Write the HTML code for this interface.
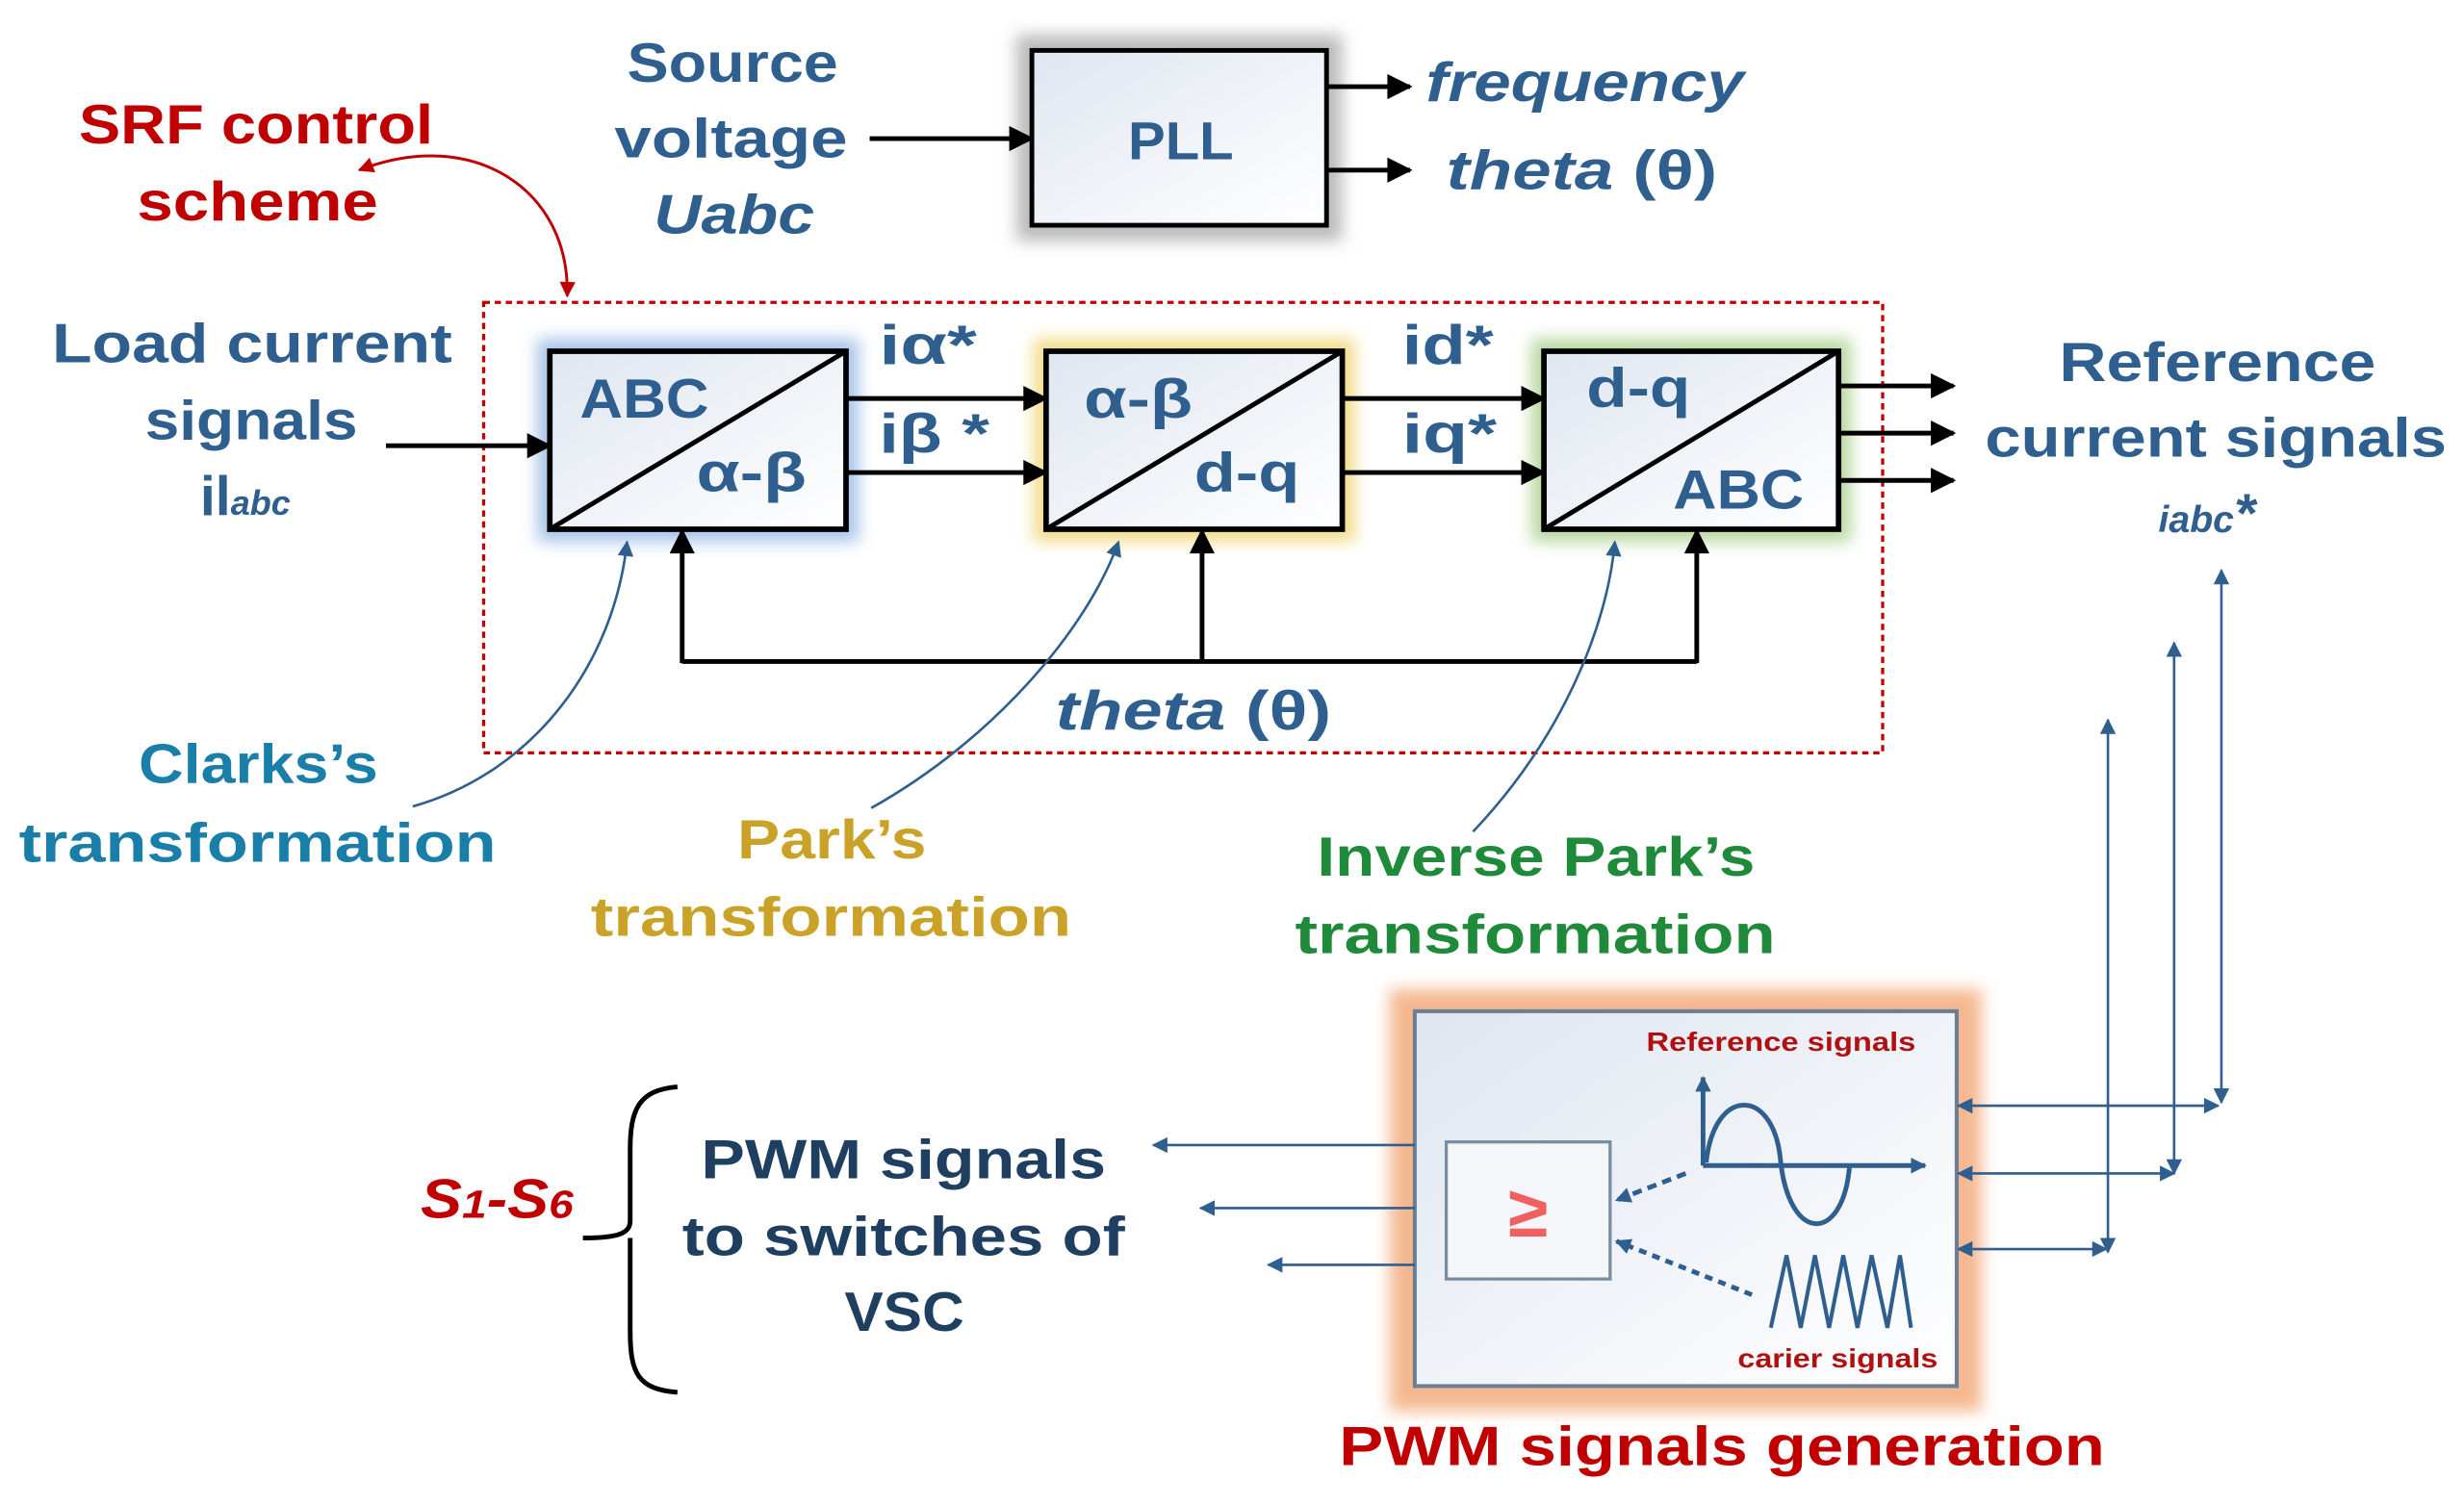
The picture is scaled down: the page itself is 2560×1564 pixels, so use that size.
<!DOCTYPE html>
<html><head><meta charset="utf-8"><style>
html,body{margin:0;padding:0;background:#fff}
svg{display:block}
text{font-family:"Liberation Sans",sans-serif;font-weight:bold}
</style></head><body>
<svg width="2560" height="1564" viewBox="0 0 1564 955.5" preserveAspectRatio="none" xmlns="http://www.w3.org/2000/svg">
<defs>
<marker id="abl" viewBox="0 0 10 10" refX="9" refY="5" markerWidth="26" markerHeight="16" orient="auto-start-reverse" markerUnits="userSpaceOnUse"><path d="M0,0 L10,5 L0,10z" fill="#000"/></marker>
<marker id="ub" viewBox="0 0 10 10" refX="9" refY="5" markerWidth="16" markerHeight="10" orient="auto-start-reverse" markerUnits="userSpaceOnUse"><path d="M0,0 L10,5 L0,10z" fill="#2e5f8f"/></marker>
<marker id="rb" viewBox="0 0 10 10" refX="9" refY="5" markerWidth="14" markerHeight="10" orient="auto-start-reverse" markerUnits="userSpaceOnUse"><path d="M0,0 L10,5 L0,10z" fill="#c00000"/></marker>
<filter id="gl" x="-20%" y="-20%" width="140%" height="140%"><feGaussianBlur stdDeviation="5"/></filter>
<linearGradient id="bg" x1="0" y1="0" x2="1" y2="1"><stop offset="0" stop-color="#dfe6f0"/><stop offset="1" stop-color="#ffffff"/></linearGradient>
</defs>

<!-- PLL -->
<rect x="645" y="22" width="207" height="131" fill="#bbb" filter="url(#gl)"/>
<rect x="655" y="32" width="187" height="111" fill="url(#bg)" stroke="#000" stroke-width="3"/>
<text x="716" y="101" font-size="34" fill="#2e5f8f" textLength="67" lengthAdjust="spacingAndGlyphs">PLL</text>
<g fill="#2e5f8f" font-size="35">
<text x="398" y="52" textLength="134" lengthAdjust="spacingAndGlyphs">Source</text>
<text x="390" y="100" textLength="148" lengthAdjust="spacingAndGlyphs">voltage</text>
<text x="415" y="148" font-style="italic" textLength="102" lengthAdjust="spacingAndGlyphs">Uabc</text>
</g>
<line x1="552" y1="88" x2="655" y2="88" stroke="#000" stroke-width="3" marker-end="url(#abl)"/>
<line x1="842" y1="55" x2="895" y2="55" stroke="#000" stroke-width="3" marker-end="url(#abl)"/>
<line x1="842" y1="108" x2="895" y2="108" stroke="#000" stroke-width="3" marker-end="url(#abl)"/>
<text x="905" y="64" font-size="35" fill="#2e5f8f" font-style="italic" textLength="202" lengthAdjust="spacingAndGlyphs">frequency</text>
<text x="918" y="120" font-size="35" fill="#2e5f8f" textLength="172" lengthAdjust="spacingAndGlyphs"><tspan font-style="italic">theta</tspan> (θ)</text>

<!-- SRF -->
<g fill="#c00000" font-size="35">
<text x="50" y="91" textLength="225" lengthAdjust="spacingAndGlyphs">SRF control</text>
<text x="87" y="140" textLength="153" lengthAdjust="spacingAndGlyphs">scheme</text>
</g>
<path d="M360,188 C362,120 300,80 228,108" fill="none" stroke="#c00000" stroke-width="1.8" marker-start="url(#rb)" marker-end="url(#rb)"/>

<rect x="307" y="192" width="888" height="286" fill="none" stroke="#c00000" stroke-width="2" stroke-dasharray="4,3"/>

<rect x="341" y="215" width="204" height="129" fill="#a8c4e8" filter="url(#gl)"/>
<rect x="656" y="215" width="204" height="129" fill="#f2dc8a" filter="url(#gl)"/>
<rect x="972" y="215" width="203" height="129" fill="#b8d8a0" filter="url(#gl)"/>
<g stroke="#000" stroke-width="3.5" fill="url(#bg)">
<rect x="349" y="223" width="188" height="113"/>
<rect x="664" y="223" width="188" height="113"/>
<rect x="980" y="223" width="187" height="113"/>
</g>
<g stroke="#000" stroke-width="3">
<line x1="349" y1="336" x2="537" y2="223"/>
<line x1="664" y1="336" x2="852" y2="223"/>
<line x1="980" y1="336" x2="1167" y2="223"/>
</g>
<g fill="#2e5f8f" font-size="35">
<text x="368" y="265" textLength="82" lengthAdjust="spacingAndGlyphs">ABC</text>
<text x="442" y="312" textLength="70" lengthAdjust="spacingAndGlyphs">α-β</text>
<text x="688" y="265" textLength="69" lengthAdjust="spacingAndGlyphs">α-β</text>
<text x="758" y="312" textLength="67" lengthAdjust="spacingAndGlyphs">d-q</text>
<text x="1007" y="258" textLength="66" lengthAdjust="spacingAndGlyphs">d-q</text>
<text x="1062" y="323" textLength="83" lengthAdjust="spacingAndGlyphs">ABC</text>
<text x="558" y="231" textLength="62" lengthAdjust="spacingAndGlyphs">iα*</text>
<text x="558" y="287" textLength="70" lengthAdjust="spacingAndGlyphs">iβ *</text>
<text x="890" y="231" textLength="58" lengthAdjust="spacingAndGlyphs">id*</text>
<text x="890" y="287" textLength="60" lengthAdjust="spacingAndGlyphs">iq*</text>
</g>
<g stroke="#000" stroke-width="3">
<line x1="537" y1="253" x2="664" y2="253" marker-end="url(#abl)"/>
<line x1="537" y1="300" x2="664" y2="300" marker-end="url(#abl)"/>
<line x1="852" y1="253" x2="980" y2="253" marker-end="url(#abl)"/>
<line x1="852" y1="300" x2="980" y2="300" marker-end="url(#abl)"/>
<line x1="1167" y1="245" x2="1240" y2="245" marker-end="url(#abl)"/>
<line x1="1167" y1="275" x2="1240" y2="275" marker-end="url(#abl)"/>
<line x1="1167" y1="305" x2="1240" y2="305" marker-end="url(#abl)"/>
<line x1="245" y1="283" x2="349" y2="283" marker-end="url(#abl)"/>
<polyline points="433,420 1077,420" fill="none"/>
<line x1="433" y1="421" x2="433" y2="337" marker-end="url(#abl)"/>
<line x1="763" y1="421" x2="763" y2="337" marker-end="url(#abl)"/>
<line x1="1077" y1="421" x2="1077" y2="337" marker-end="url(#abl)"/>
</g>
<text x="670" y="463" font-size="35" fill="#2e5f8f" textLength="175" lengthAdjust="spacingAndGlyphs"><tspan font-style="italic">theta</tspan> (θ)</text>

<g fill="#2e5f8f" font-size="35">
<text x="33" y="230" textLength="254" lengthAdjust="spacingAndGlyphs">Load current</text>
<text x="92" y="279" textLength="135" lengthAdjust="spacingAndGlyphs">signals</text>
<text x="127" y="327">il<tspan font-size="22" font-style="italic">abc</tspan></text>
<text x="1307" y="242" textLength="201" lengthAdjust="spacingAndGlyphs">Reference</text>
<text x="1260" y="290" textLength="293" lengthAdjust="spacingAndGlyphs">current signals</text>
<text x="1370" y="338" font-style="italic"><tspan font-size="24">iabc</tspan>*</text>
</g>

<g fill="none" stroke="#2e5f8f" stroke-width="1.6">
<path d="M262,512 C340,490 390,420 398,344" marker-end="url(#ub)"/>
<path d="M553,513 C630,470 690,400 710,344" marker-end="url(#ub)"/>
<path d="M935,528 C990,470 1020,400 1025,344" marker-end="url(#ub)"/>
</g>
<g font-size="35">
<text x="88" y="497" fill="#1a7fa8" textLength="152" lengthAdjust="spacingAndGlyphs">Clarks’s</text>
<text x="12" y="547" fill="#1a7fa8" textLength="303" lengthAdjust="spacingAndGlyphs">transformation</text>
<text x="468" y="545" fill="#c9a227" textLength="120" lengthAdjust="spacingAndGlyphs">Park’s</text>
<text x="375" y="594" fill="#c9a227" textLength="305" lengthAdjust="spacingAndGlyphs">transformation</text>
<text x="836" y="556" fill="#1e8a3a" textLength="278" lengthAdjust="spacingAndGlyphs">Inverse Park’s</text>
<text x="822" y="605" fill="#1e8a3a" textLength="305" lengthAdjust="spacingAndGlyphs">transformation</text>
</g>

<rect x="882" y="628" width="376" height="268" fill="#f4b890" filter="url(#gl)"/>
<rect x="898" y="642" width="344" height="238" fill="url(#bg)" stroke="#6a7f95" stroke-width="2.5"/>
<rect x="918" y="725" width="104" height="87" fill="#f4f6f9" stroke="#7a8ca0" stroke-width="2"/>
<text x="970" y="785" font-size="46" fill="#f06060" text-anchor="middle" font-weight="normal">≥</text>
<text x="1045" y="667" font-size="17" fill="#b01010" font-weight="normal" textLength="171" lengthAdjust="spacingAndGlyphs">Reference signals</text>
<text x="1103" y="868" font-size="17" fill="#b01010" font-weight="normal" textLength="127" lengthAdjust="spacingAndGlyphs">carier signals</text>
<g fill="none" stroke="#2e5f8f" stroke-width="3">
<line x1="1081" y1="740" x2="1081" y2="684" marker-end="url(#ub)"/>
<line x1="1081" y1="740" x2="1222" y2="740" marker-end="url(#ub)"/>
<path d="M1083,738 C1088,690 1125,690 1130,735 C1135,790 1170,790 1174,740"/>
<polyline points="1124,843 1134,797 1143,843 1152,797 1161,843 1170,797 1179,843 1188,797 1198,843 1206,797 1213,843" stroke-width="2.5"/>
<line x1="1070" y1="745" x2="1026" y2="762" stroke-dasharray="6,4" marker-end="url(#ub)"/>
<line x1="1112" y1="822" x2="1026" y2="788" stroke-dasharray="5,4" marker-end="url(#ub)"/>
</g>
<g stroke="#2e5f8f" stroke-width="1.6">
<line x1="1243" y1="702" x2="1408" y2="702" marker-start="url(#ub)" marker-end="url(#ub)"/>
<line x1="1243" y1="745" x2="1380" y2="745" marker-start="url(#ub)" marker-end="url(#ub)"/>
<line x1="1243" y1="793" x2="1337" y2="793" marker-start="url(#ub)" marker-end="url(#ub)"/>
<line x1="1410" y1="700" x2="1410" y2="362" marker-start="url(#ub)" marker-end="url(#ub)"/>
<line x1="1380" y1="745" x2="1380" y2="408" marker-start="url(#ub)" marker-end="url(#ub)"/>
<line x1="1338" y1="795" x2="1338" y2="457" marker-start="url(#ub)" marker-end="url(#ub)"/>
<line x1="898" y1="727" x2="732" y2="727" marker-end="url(#ub)"/>
<line x1="898" y1="767" x2="762" y2="767" marker-end="url(#ub)"/>
<line x1="898" y1="803" x2="805" y2="803" marker-end="url(#ub)"/>
</g>
<g fill="#1f3f60" font-size="35">
<text x="445" y="748" textLength="257" lengthAdjust="spacingAndGlyphs">PWM signals</text>
<text x="433" y="797" textLength="281" lengthAdjust="spacingAndGlyphs">to switches of</text>
<text x="536" y="845" textLength="76" lengthAdjust="spacingAndGlyphs">VSC</text>
</g>
<text x="267" y="773" font-size="35" fill="#c00000" font-style="italic" textLength="97" lengthAdjust="spacingAndGlyphs">S<tspan font-size="25">1</tspan>-S<tspan font-size="25">6</tspan></text>
<path d="M430,690 C405,692 400,705 400,730 L400,775 C400,782 395,786 370,786 M400,786 L400,845 C400,872 405,882 430,884" fill="none" stroke="#000" stroke-width="3"/>
<text x="850" y="930" font-size="35" fill="#c00000" textLength="486" lengthAdjust="spacingAndGlyphs">PWM signals generation</text>
</svg>
</body></html>
